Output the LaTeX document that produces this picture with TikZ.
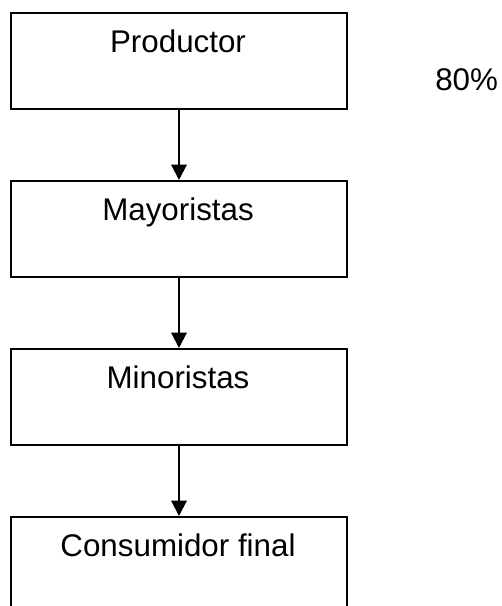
\documentclass[tikz,border=0pt]{standalone}
\usepackage{fontspec}
\setmainfont{Liberation Sans}
\usetikzlibrary{arrows.meta}
\tikzset{
  x=0.75pt,y=-0.75pt,
  boxnode/.style={draw=black,line width=1.5pt,fill=white,rectangle,inner sep=0pt,minimum width=252pt,minimum height=72pt,anchor=north west},
  labelnode/.style={inner sep=0pt,anchor=base,font=\fontsize{23.5}{28}\selectfont,text=black},
  flow/.style={draw=black,line width=1.5pt,-{Triangle[length=11.5pt,width=11.5pt]}}
}
\begin{document}
\begin{tikzpicture}
\useasboundingbox (0,0) rectangle (501,606);
\node[boxnode] (a) at (10,12) {};
\node[boxnode] (b) at (10,180) {};
\node[boxnode] (c) at (10,348) {};
\node[boxnode] (d) at (10,516) {};
\node[labelnode] (ta) at (178,52.7) {Productor};
\node[labelnode] (tb) at (178,220.7) {Mayoristas};
\node[labelnode] (tc) at (178,388) {Minoristas};
\node[labelnode] (td) at (178,556) {Consumidor final};
\node[labelnode,anchor=base west] (p) at (435,90.7) {80\%};
\draw[flow] (a.south) -- (b.north);
\draw[flow] (b.south) -- (c.north);
\draw[flow] (c.south) -- (d.north);
\end{tikzpicture}
\end{document}
